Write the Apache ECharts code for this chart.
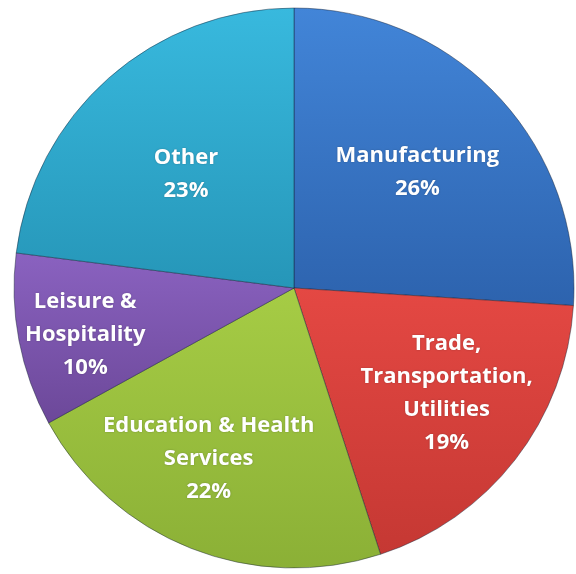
<!DOCTYPE html>
<html>
<head>
<meta charset="utf-8">
<script src="https://cdn.jsdelivr.net/npm/echarts@6/dist/echarts.min.js"></script>
<style>html,body{margin:0;padding:0;background:#fff;}#chart{width:576px;height:574px;}</style>
</head>
<body>
<div id="chart"></div>
<script>
const categories = ['Manufacturing', 'Trade,\nTransportation,\nUtilities', 'Education & Health\nServices', 'Leisure &\nHospitality', 'Other'];
const shares = [26, 19, 22, 10, 23];
const colorsTop = ['#4285d8', '#e44843', '#a6cc45', '#8a62c0', '#38b9de'];
const colorsBottom = ['#2d63ae', '#c53833', '#8bb036', '#6c4899', '#2696b8'];
const labelOffsets = [[-10, 10], [8, -7], [-18, 1], [-29, 12], [13, 24]];

const chart = echarts.init(document.getElementById('chart'), null, {renderer: 'canvas'});

function grad(i) {
  return new echarts.graphic.LinearGradient(0, 0, 0, 1, [
    {offset: 0, color: colorsTop[i]},
    {offset: 1, color: colorsBottom[i]}
  ]);
}

const pieData = categories.map((n, i) => ({
  name: n, value: shares[i],
  itemStyle: {color: grad(i)}
}));
const labelData = categories.map((n, i) => ({
  name: n, value: shares[i],
  label: {offset: labelOffsets[i]}
}));

chart.setOption({
  animation: false,
  backgroundColor: '#ffffff',
  series: [
    {
      type: 'pie',
      center: [294, 288],
      radius: [0, 280],
      startAngle: 90,
      clockwise: true,
      label: {show: false},
      labelLine: {show: false},
      itemStyle: {borderColor: 'rgba(20,30,50,0.45)', borderWidth: 1},
      emphasis: {disabled: true},
      data: pieData
    },
    {
      type: 'pie',
      center: [294, 288],
      radius: [80, 280],
      startAngle: 90,
      clockwise: true,
      silent: true,
      itemStyle: {color: 'rgba(0,0,0,0)', borderWidth: 0},
      labelLine: {show: false},
      label: {
        show: true,
        position: 'inside',
        formatter: '{b}\n{c}%',
        color: '#ffffff',
        fontFamily: 'Open Sans',
        fontWeight: 'bold',
        fontSize: 22,
        lineHeight: 33,
        align: 'center',
        textShadowColor: 'rgba(0,0,0,0.25)',
        textShadowBlur: 2
      },
      emphasis: {disabled: true},
      data: labelData
    }
  ]
});
</script>
</body>
</html>
